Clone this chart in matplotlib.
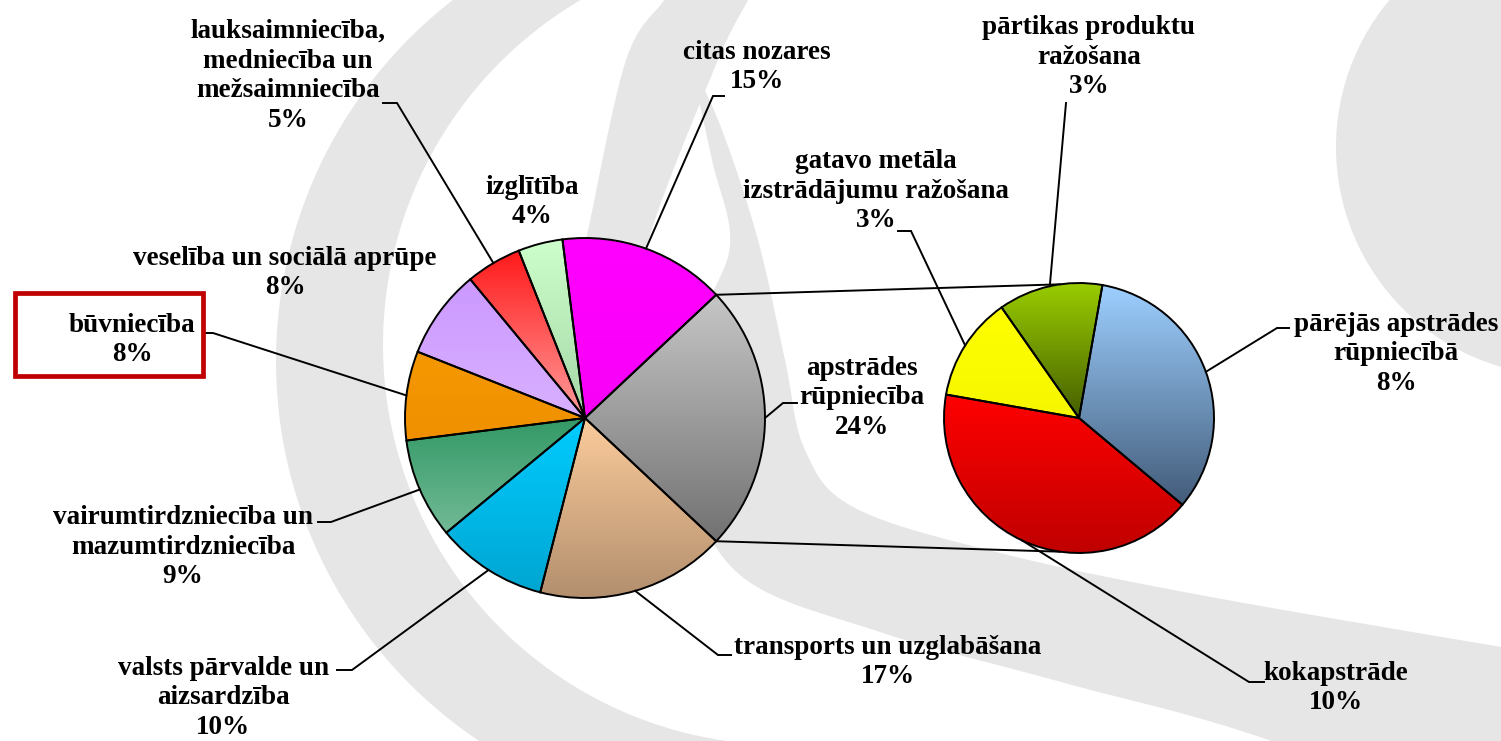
import numpy as np
import matplotlib
matplotlib.use('Agg')
import matplotlib.pyplot as plt
from matplotlib.patches import Polygon, Circle, Rectangle
from matplotlib.colors import to_rgb

W, H = 1501, 741

# nodarbināto sadalījums pa nozarēm, %
main_names = ['apstrādes\nrūpniecība', 'citas nozares', 'izglītība',
              'lauksaimniecība,\nmedniecība un\nmežsaimniecība',
              'veselība un sociālā aprūpe', 'būvniecība',
              'vairumtirdzniecība un\nmazumtirdzniecība',
              'valsts pārvalde un\naizsardzība', 'transports un uzglabāšana']
main_vals = [24, 15, 4, 5, 8, 8, 9, 10, 17]
main_top = ['#c6c6c6', '#ff00ff', '#ccffcc', '#ff1a1a', '#cc99ff', '#f49800',
            '#339966', '#00ccff', '#fbcb9b']
main_bot = ['#727272', '#f800f8', '#a6d6a6', '#ff9c9c', '#d8b0ff', '#f09000',
            '#72ba96', '#00a6d2', '#b38f6e']

# apstrādes rūpniecības sadalījums
sub_names = ['pārējās apstrādes\nrūpniecībā', 'pārtikas produktu\nražošana',
             'gatavo metāla\nizstrādājumu ražošana', 'kokapstrāde']
sub_vals = [8, 3, 3, 10]
sub_top = ['#9dcfff', '#99cc00', '#ffff00', '#ff0000']
sub_bot = ['#435c7a', '#465f00', '#f6f600', '#c00000']

# label placement (pixels, y from top): text centre, elbow, end of leader
main_txt = [(862, 398), (757, 67), (532, 202), (288, 76), (285, 273),
            (132, 340), (183, 547), (223, 698), (888, 662)]
main_lead = [((783, 403), (797, 403)), ((713, 96), (724, 96)), None,
             ((397, 103), (383, 103)), None, ((213, 333), (203, 333)),
             ((331, 522), (318, 522)), ((352, 670), (337, 670)),
             ((718, 655), (731, 655))]
sub_txt = [(1396, 354), (1089, 57), (876, 191), (1336, 688)]
sub_lead = [((1277, 328), (1289, 328)), ((1066, 103), (1066, 103)),
            ((911, 231), (898, 231)), ((1249, 682), (1264, 682))]

fig = plt.figure(figsize=(W / 100, H / 100), dpi=100)
ax = fig.add_axes([0, 0, 1, 1])

gray = '#e6e6e6'


def arc(cx, cy, r, a0, a1):
    t = np.radians(np.linspace(a0, a1, 120))
    return np.column_stack([cx + r * np.cos(t), H - (cy + r * np.sin(t))])


def spline(pts, n=24):
    # catmull-rom through outline points (decoration only)
    p = np.asarray(pts, float)
    p = np.vstack([p[0], p, p[-1]])
    out = []
    t = np.linspace(0, 1, n, endpoint=False)[:, None]
    for i in range(1, len(p) - 2):
        p0, p1, p2, p3 = p[i - 1], p[i], p[i + 1], p[i + 2]
        out.append(0.5 * (2 * p1 + (-p0 + p2) * t
                          + (2 * p0 - 5 * p1 + 4 * p2 - p3) * t ** 2
                          + (-p0 + 3 * p1 - 3 * p2 + p3) * t ** 3))
    out.append(p[-2][None])
    out = np.vstack(out)
    out[:, 1] = H - out[:, 1]
    return out


# background swooshes
band1 = np.vstack([arc(733, 361, 457, 85, 250), arc(783, 345, 400, 255, 95)])
band2 = np.vstack([spline([(672, -20), (664, 0), (626, 60), (587, 235), (560, 360)]),
                   spline([(625, 360), (650, 235), (718, 60), (748, 0), (756, -20)])])
band3 = np.vstack([spline([(690, 60), (722, 130), (758, 240), (785, 360), (805, 450),
                           (855, 508), (1000, 553), (1200, 595), (1501, 647), (1560, 657)]),
                   spline([(1560, 860), (1277, 743), (1061, 682), (880, 632),
                           (740, 575), (690, 470), (700, 330), (730, 245), (712, 160),
                           (690, 60)])])
for b in (band1, band2, band3):
    ax.add_patch(Polygon(b, closed=True, fc=gray, ec='none', zorder=0))
ax.add_patch(Circle((1565, H - 147), 229, fc=gray, ec='none', zorder=0))

c1 = (585, H - 418)
r1 = 180
c2 = (1079, H - 418)
r2 = 135

wm, _ = ax.pie(main_vals, startangle=-main_vals[0] * 1.8, center=c1, radius=r1,
               wedgeprops=dict(edgecolor='black', linewidth=1.4))
ws, _ = ax.pie(sub_vals, startangle=-40, center=c2, radius=r2,
               wedgeprops=dict(edgecolor='black', linewidth=1.4))


def shade(w, top, bot):
    x0, y0, x1, y1 = w.get_path().get_extents().extents
    g = np.linspace(0, 1, 100)[:, None, None]
    img = (1 - g) * np.array(to_rgb(top)) + g * np.array(to_rgb(bot))
    im = ax.imshow(img, extent=(x0, x1, y0, y1), origin='upper',
                   aspect='auto', interpolation='bilinear', zorder=2)
    im.set_clip_path(w)
    w.set_facecolor('none')
    w.set_zorder(2.5)


for w, a, b in zip(wm, main_top, main_bot):
    shade(w, a, b)
for w, a, b in zip(ws, sub_top, sub_bot):
    shade(w, a, b)

# connectors between the two pies
for a_main, a_sub in [(wm[0].theta2, 98), (wm[0].theta1, 262)]:
    p = (c1[0] + r1 * np.cos(np.radians(a_main)), c1[1] + r1 * np.sin(np.radians(a_main)))
    q = (c2[0] + r2 * np.cos(np.radians(a_sub)), c2[1] + r2 * np.sin(np.radians(a_sub)))
    ax.plot([p[0], q[0]], [p[1], q[1]], color='black', lw=1.4, zorder=1.8)

font = dict(family='Liberation Serif', weight='bold', size=19.5)


def label(w, c, r, name, val, txt, lead):
    if lead is not None:
        mid = np.radians((w.theta1 + w.theta2) / 2)
        ax_pt = (c[0] + r * np.cos(mid), c[1] + r * np.sin(mid))
        (ex, ey), (tx, ty) = lead
        ax.plot([ax_pt[0], ex, tx], [ax_pt[1], H - ey, H - ty],
                color='black', lw=1.4, zorder=3, solid_joinstyle='miter')
    ax.text(txt[0], H - txt[1], f'{name}\n{val}%', ha='center', va='center',
            multialignment='center', linespacing=1.25, zorder=4, **font)


for w, n, v, t, l in zip(wm, main_names, main_vals, main_txt, main_lead):
    label(w, c1, r1, n, v, t, l)
for w, n, v, t, l in zip(ws, sub_names, sub_vals, sub_txt, sub_lead):
    label(w, c2, r2, n, v, t, l)

# highlight box
ax.add_patch(Rectangle((15, H - 376), 188, 83, fill=False, ec='#c00000',
                       lw=3.4, zorder=5))

ax.set_xlim(0, W)
ax.set_ylim(0, H)
ax.set_aspect('auto')
ax.axis('off')
fig.savefig('out.png', dpi=100, facecolor='white')
